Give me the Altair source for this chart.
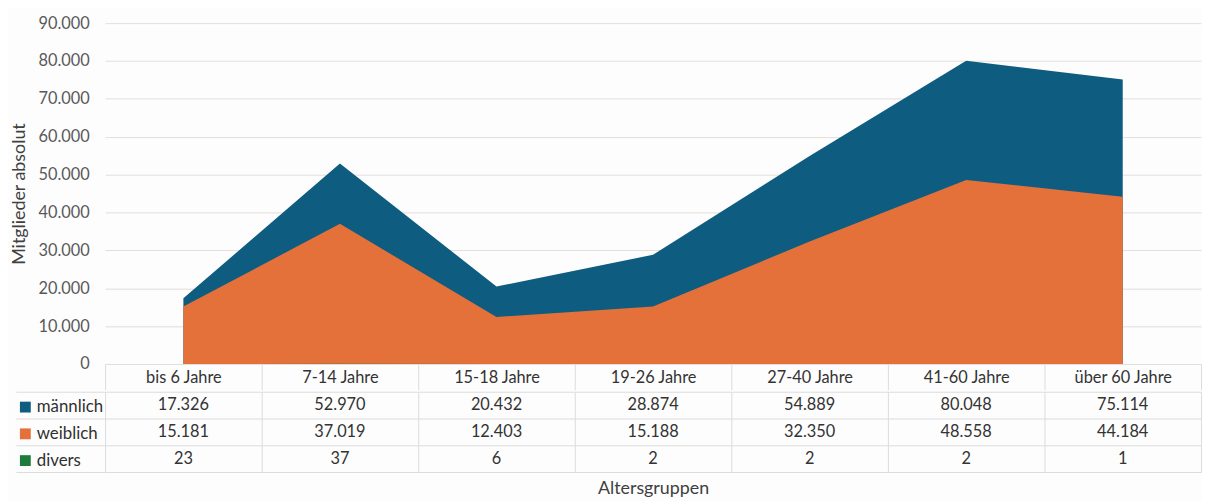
import altair as alt
import pandas as pd

categories = ["bis 6 Jahre", "7-14 Jahre", "15-18 Jahre", "19-26 Jahre",
              "27-40 Jahre", "41-60 Jahre", "über 60 Jahre"]
genders = ["männlich", "weiblich", "divers"]
maennlich = [17326, 52970, 20432, 28874, 54889, 80048, 75114]
weiblich = [15181, 37019, 12403, 15188, 32350, 48558, 44184]
divers = [23, 37, 6, 2, 2, 2, 1]
colors = ["#0E5C80", "#E4703A", "#1E7B3C"]
y_ticks = [0, 10000, 20000, 30000, 40000, 50000, 60000, 70000, 80000, 90000]

rows = []
for g, vals in zip(genders, [maennlich, weiblich, divers]):
    for c, v in zip(categories, vals):
        rows.append({"Altersgruppe": c, "Geschlecht": g, "Wert": v})
df = pd.DataFrame(rows)

FONT = "Lato"
TXT = "#404040"
GRID = "#E2DEDA"
LINE = "#DCDCDC"
W = 1106

x_band = alt.Scale(type="band", domain=categories, paddingInner=0, paddingOuter=0)

area = alt.Chart(df).mark_area(opacity=1).encode(
    x=alt.X("Altersgruppe:N", sort=categories, scale=x_band, bandPosition=0.5,
            axis=alt.Axis(title=None, grid=False, domain=False, ticks=True,
                          tickBand="extent", tickSize=26, tickColor=LINE,
                          labelPadding=-20, labelAngle=0, labelFontSize=16.5,
                          labelColor="#333333", labelFont=FONT)),
    y=alt.Y("Wert:Q", stack=None,
            scale=alt.Scale(domain=[0, 90000], nice=False),
            axis=alt.Axis(title="Mitglieder absolut", values=y_ticks,
                          labelExpr="replace(format(datum.value, ','), ',', '.')",
                          grid=True, gridColor=GRID, domain=False, ticks=False,
                          labelPadding=16, labelFontSize=16.5, labelColor="#595959",
                          labelFont=FONT, titleFont=FONT, titleFontSize=18,
                          titleFontWeight="normal", titleColor=TXT, titlePadding=10)),
    color=alt.Color("Geschlecht:N", sort=genders,
                    scale=alt.Scale(domain=genders, range=colors),
                    legend=alt.Legend(title=None, orient="none", legendX=-89, legendY=379,
                                      direction="vertical", symbolType="square",
                                      symbolSize=120, symbolStrokeWidth=0,
                                      labelFontSize=17, labelColor="#303030",
                                      labelFont=FONT, rowPadding=9, labelOffset=3)),
    order=alt.Order("Geschlecht:N"),
).properties(width=W, height=344)

table = alt.Chart(df).transform_calculate(
    label="replace(format(datum.Wert, ','), ',', '.')"
).mark_text(font=FONT, fontSize=16.5, color="#333333").encode(
    x=alt.X("Altersgruppe:N", sort=categories, scale=x_band,
            axis=alt.Axis(title="Altersgruppen", labels=False, ticks=False,
                          domain=False, grid=True, tickBand="extent",
                          gridColor=LINE, titleFont=FONT, titleFontSize=18,
                          titleFontWeight="normal", titleColor=TXT, titlePadding=8)),
    y=alt.Y("Geschlecht:N", sort=genders,
            scale=alt.Scale(type="band", domain=genders, paddingInner=0, paddingOuter=0),
            axis=alt.Axis(title=None, labels=False, ticks=True, tickBand="extent",
                          tickSize=90, tickColor=LINE, grid=True, gridColor=LINE,
                          domain=False)),
    text="label:N",
).properties(width=W, height=81)

chart = alt.vconcat(area, table, spacing=0).properties(
    background="#FDFDFD",
    padding={"left": 2, "top": 5, "right": 0, "bottom": 1},
).configure_view(stroke=None)

chart.save("out.html", embed_options={"renderer": "svg", "actions": False})
